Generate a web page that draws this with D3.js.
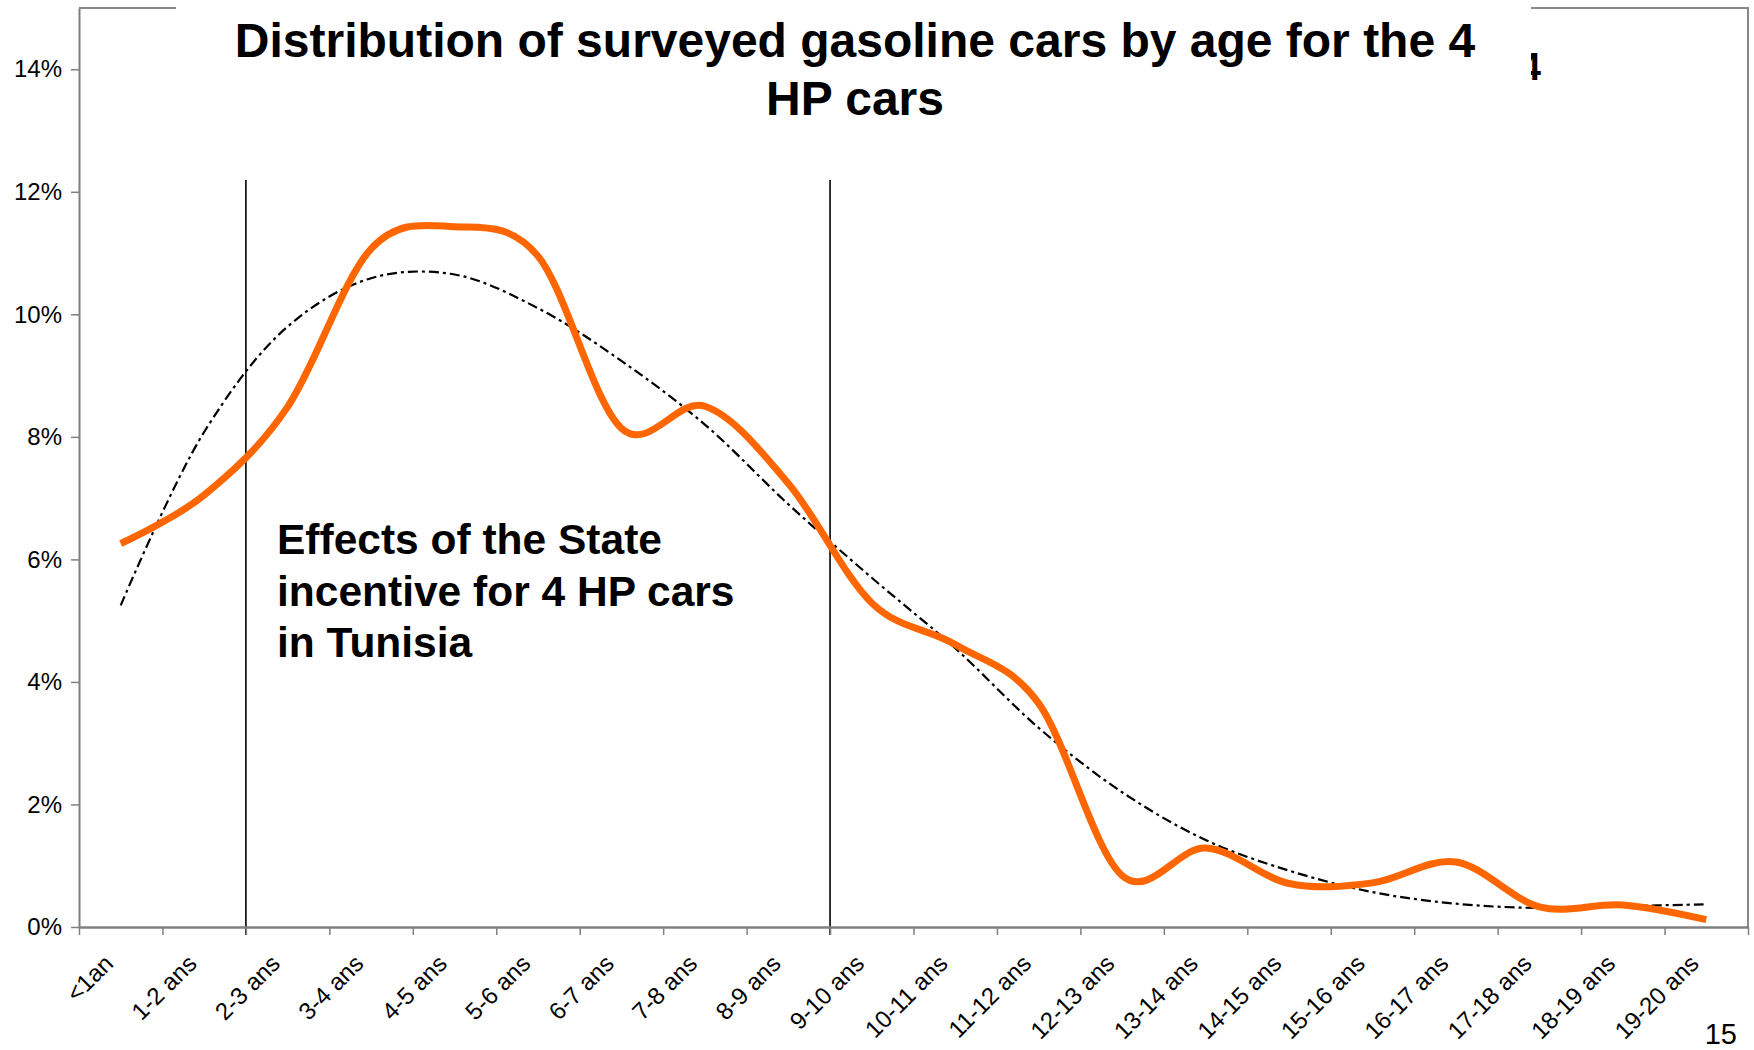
<!DOCTYPE html>
<html>
<head>
<meta charset="utf-8">
<script src="https://cdn.jsdelivr.net/npm/d3@7"></script>
<style>
  body { margin: 0; background: #fff; }
  svg { display: block; font-family: "Liberation Sans", Arial, sans-serif; }
</style>
</head>
<body>
<div id="chart"></div>
<script>
  // age classes on the x axis
  var categories = ["<1an", "1-2 ans", "2-3 ans", "3-4 ans", "4-5 ans", "5-6 ans",
    "6-7 ans", "7-8 ans", "8-9 ans", "9-10 ans", "10-11 ans", "11-12 ans",
    "12-13 ans", "13-14 ans", "14-15 ans", "15-16 ans", "16-17 ans",
    "17-18 ans", "18-19 ans", "19-20 ans"];

  // share of surveyed cars (%), orange line
  var surveyShare = [6.26, 7.05, 8.49, 11.07, 11.43, 10.95, 8.14, 8.5, 7.24, 5.29,
    4.61, 3.65, 0.84, 1.29, 0.71, 0.72, 1.06, 0.33, 0.36, 0.12];

  // polynomial trend (%), dash-dot line
  var trendShare = [5.25, 8.08, 9.8, 10.59, 10.65, 10.1, 9.24, 8.2, 6.9, 5.7,
    4.55, 3.25, 2.2, 1.42, 0.92, 0.57, 0.38, 0.31, 0.34, 0.37];

  var yTicks = [0, 2, 4, 6, 8, 10, 12, 14];

  // period of the State incentive (vertical markers at start of these classes)
  var incentiveBounds = ["2-3 ans", "9-10 ans"];

  var titleLines = ["Distribution of surveyed gasoline cars by age for the 4", "HP cars"];
  var noteLines = ["Effects of the State", "incentive for 4 HP cars", "in Tunisia"];
  var pageNumber = "15";

  (function () {
    var width = 1754, height = 1050;
    var plotLeft = 79, plotRight = 1748, plotTop = 8, plotBottom = 927;

    var svg = d3.select("#chart").append("svg")
      .attr("width", width)
      .attr("height", height);

    svg.append("rect").attr("width", width).attr("height", height).attr("fill", "#fff");

    var x = d3.scaleBand().domain(categories).range([plotLeft, plotRight]);
    var xEdge = d3.scaleLinear().domain([0, categories.length]).range([plotLeft, plotRight]);
    var y = d3.scaleLinear().domain([0, 15]).range([plotBottom, plotTop]);

    function cx(c) { return x(c) + x.bandwidth() / 2; }

    // frame (top + right)
    svg.append("path")
      .attr("d", "M" + plotLeft + "," + plotTop + "H" + plotRight + "V" + plotBottom)
      .attr("fill", "none")
      .attr("stroke", "#888")
      .attr("stroke-width", 2);

    // incentive markers
    svg.selectAll(".marker")
      .data(incentiveBounds)
      .enter().append("line")
      .attr("class", "marker")
      .attr("x1", function(d) { return x(d); })
      .attr("x2", function(d) { return x(d); })
      .attr("y1", 180)
      .attr("y2", plotBottom + 8)
      .attr("stroke", "#000")
      .attr("stroke-width", 1.6);

    // trend line
    var trendLine = d3.line()
      .x(function(d, i) { return cx(categories[i]); })
      .y(function(d) { return y(d); })
      .curve(d3.curveCatmullRom.alpha(0.5));

    svg.append("path")
      .datum(trendShare)
      .attr("d", trendLine)
      .attr("fill", "none")
      .attr("stroke", "#000")
      .attr("stroke-width", 2.2)
      .attr("stroke-dasharray", "10,4,3,4");

    // survey line
    var surveyLine = d3.line()
      .x(function(d, i) { return cx(categories[i]); })
      .y(function(d) { return y(d); })
      .curve(d3.curveCardinal.tension(0));

    svg.append("path")
      .datum(surveyShare)
      .attr("d", surveyLine)
      .attr("fill", "none")
      .attr("stroke", "#ff6600")
      .attr("stroke-width", 7)
      .attr("stroke-linejoin", "round");

    // y axis
    var yAxis = svg.append("g")
      .attr("transform", "translate(" + plotLeft + ",0)")
      .call(d3.axisLeft(y).tickValues(yTicks).tickSize(8).tickSizeOuter(0)
        .tickFormat(function(d) { return d + "%"; }));
    yAxis.select(".domain").attr("stroke", "#808080").attr("stroke-width", 2);
    yAxis.selectAll(".tick line").attr("stroke", "#808080").attr("stroke-width", 1.5);
    yAxis.selectAll(".tick text")
      .attr("x", -17)
      .attr("font-family", "Liberation Sans, Arial, sans-serif")
      .attr("font-size", 24)
      .attr("fill", "#000");

    // x axis, ticks on class boundaries
    var xAxis = svg.append("g")
      .attr("transform", "translate(0," + plotBottom + ")")
      .call(d3.axisBottom(xEdge).tickValues(d3.range(categories.length + 1))
        .tickSize(8).tickSizeOuter(0).tickFormat(""));
    xAxis.select(".domain").attr("stroke", "#808080").attr("stroke-width", 2.5);
    xAxis.selectAll(".tick line").attr("stroke", "#808080").attr("stroke-width", 1.5);

    svg.selectAll(".xlabel")
      .data(categories)
      .enter().append("text")
      .attr("class", "xlabel")
      .attr("transform", function(d) {
        return "translate(" + (cx(d) - 12) + "," + (plotBottom + 32) + ") rotate(-45)";
      })
      .attr("text-anchor", "end")
      .attr("dy", "0.35em")
      .attr("font-size", 24)
      .text(function(d) { return d; });

    // partly hidden text behind the title box
    svg.append("text")
      .attr("x", 1541)
      .attr("y", 80)
      .attr("text-anchor", "end")
      .attr("font-size", 38)
      .attr("font-weight", "bold")
      .text("4");

    // title box
    svg.append("rect")
      .attr("x", 176).attr("y", 0)
      .attr("width", 1531 - 176).attr("height", 136)
      .attr("fill", "#fff");

    svg.append("text")
      .attr("x", 855)
      .attr("y", 57)
      .attr("text-anchor", "middle")
      .attr("font-size", 48)
      .attr("font-weight", "bold")
      .selectAll("tspan")
      .data(titleLines)
      .enter().append("tspan")
      .attr("x", 855)
      .attr("dy", function(d, i) { return i ? 58 : 0; })
      .text(function(d) { return d; });

    svg.append("text")
      .attr("x", 277)
      .attr("y", 554)
      .attr("font-size", 42.5)
      .attr("font-weight", "bold")
      .selectAll("tspan")
      .data(noteLines)
      .enter().append("tspan")
      .attr("x", 277)
      .attr("dy", function(d, i) { return i ? 51.5 : 0; })
      .text(function(d) { return d; });

    svg.append("text")
      .attr("x", 1737)
      .attr("y", 1044)
      .attr("text-anchor", "end")
      .attr("font-size", 29)
      .text(pageNumber);
  })();
</script>
</body>
</html>
